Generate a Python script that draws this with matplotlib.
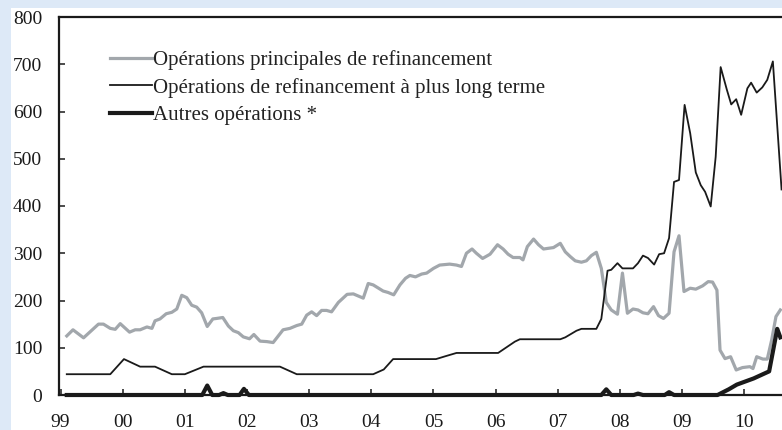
import matplotlib
matplotlib.use('Agg')
import matplotlib.pyplot as plt
from matplotlib.patches import Rectangle

# Encours des opérations (milliards d'euros)
mro_x = [1999.10, 1999.20, 1999.37, 1999.61, 1999.69, 1999.80, 1999.88, 1999.96,
         2000.11, 2000.20, 2000.28, 2000.39, 2000.47, 2000.52, 2000.60, 2000.70,
         2000.79, 2000.87, 2000.95, 2001.03, 2001.11, 2001.19, 2001.27, 2001.36,
         2001.45, 2001.51, 2001.61, 2001.70, 2001.78, 2001.86, 2001.94, 2002.04,
         2002.11, 2002.21, 2002.32, 2002.42, 2002.58, 2002.69, 2002.80, 2002.88,
         2002.96, 2003.04, 2003.12, 2003.20, 2003.28, 2003.36, 2003.47, 2003.61,
         2003.71, 2003.87, 2003.95, 2004.03, 2004.19, 2004.27, 2004.36, 2004.46,
         2004.55, 2004.62, 2004.71, 2004.81, 2004.89, 2005.00, 2005.10, 2005.26,
         2005.37, 2005.45, 2005.53, 2005.62, 2005.69, 2005.79, 2005.91, 2006.03,
         2006.12, 2006.20, 2006.28, 2006.39, 2006.44, 2006.51, 2006.61, 2006.69,
         2006.77, 2006.93, 2007.04, 2007.12, 2007.20, 2007.28, 2007.38, 2007.46,
         2007.54, 2007.62, 2007.70, 2007.78, 2007.86, 2007.96, 2008.04, 2008.12,
         2008.21, 2008.29, 2008.37, 2008.45, 2008.54, 2008.62, 2008.70, 2008.79,
         2008.87, 2008.95, 2009.03, 2009.13, 2009.22, 2009.33, 2009.42, 2009.49,
         2009.56, 2009.61, 2009.69, 2009.78, 2009.87, 2009.97, 2010.09, 2010.14,
         2010.20, 2010.30, 2010.37, 2010.44, 2010.51, 2010.58]
mro_y = [125, 138, 121, 150, 150, 141, 139, 151,
         133, 138, 138, 144, 141, 157, 161, 172,
         175, 182, 211, 206, 190, 186, 174, 145,
         161, 162, 164, 146, 136, 132, 123, 119,
         128, 114, 113, 111, 138, 141, 147, 150,
         169, 176, 168, 179, 179, 176, 196, 213,
         214, 205, 236, 233, 220, 217, 212, 233,
         247, 253, 250, 256, 258, 268, 275, 277,
         275, 272, 300, 309, 300, 289, 298, 318,
         309, 298, 291, 291, 286, 314, 330, 318,
         309, 312, 321, 303, 293, 284, 281, 284,
         295, 302, 268, 196, 180, 171, 258, 173,
         182, 180, 174, 172, 187, 168, 162, 173,
         303, 337, 219, 226, 224, 231, 240, 239,
         222, 95, 77, 81, 53, 58, 60, 56,
         81, 76, 76, 116, 166, 180]

ltro_x = [1999.10, 1999.80, 2000.02, 2000.28, 2000.52, 2000.79, 2001.00, 2001.30,
          2002.53, 2002.80, 2004.03, 2004.20, 2004.35, 2005.04, 2005.19, 2005.37,
          2006.04, 2006.31, 2006.39, 2007.04, 2007.12, 2007.30, 2007.38, 2007.62,
          2007.70, 2007.80, 2007.86, 2007.96, 2008.04, 2008.21, 2008.29, 2008.37,
          2008.45, 2008.55, 2008.63, 2008.71, 2008.79, 2008.87, 2008.95, 2009.04,
          2009.13, 2009.22, 2009.30, 2009.37, 2009.46, 2009.54, 2009.62, 2009.72,
          2009.79, 2009.87, 2009.95, 2010.05, 2010.11, 2010.20, 2010.29, 2010.37,
          2010.46, 2010.60]
ltro_y = [44, 44, 76, 60, 60, 44, 44, 60,
          60, 44, 44, 54, 76, 76, 82, 89,
          89, 113, 118, 118, 122, 136, 140, 140,
          161, 263, 265, 279, 268, 268, 279, 295,
          290, 276, 298, 300, 332, 451, 455, 614,
          554, 471, 444, 430, 399, 504, 694, 646,
          615, 626, 593, 649, 661, 640, 651, 667,
          706, 435]

autres_x = [1999.10, 2001.28, 2001.36, 2001.44, 2001.55, 2001.62, 2001.69, 2001.88,
            2001.95, 2002.03, 2007.70, 2007.78, 2007.86, 2008.22, 2008.29, 2008.37,
            2008.72, 2008.79, 2008.87, 2009.57, 2009.75, 2009.88, 2010.15, 2010.40,
            2010.53, 2010.58]
autres_y = [0, 0, 20, 0, 0, 4, 0, 0,
            13, 0, 0, 12, 0, 0, 3, 0,
            0, 6, 0, 0, 12, 22, 35, 50,
            140, 122]

labels = ["Opérations principales de refinancement",
          "Opérations de refinancement à plus long terme",
          "Autres opérations *"]
year_ticks = list(range(1999, 2011))
year_labels = ['%02d' % (y % 100) for y in year_ticks]

plt.rcParams['font.family'] = ['Liberation Serif', 'DejaVu Serif']

W, H = 782, 430
fig = plt.figure(figsize=(W / 100, H / 100), dpi=100)
fig.patch.set_facecolor('white')
# bandeau bleu clair en haut et à gauche
blue = '#dde9f7'
fig.patches.append(Rectangle((0, 1 - 8 / H), 1, 8 / H, transform=fig.transFigure,
                             facecolor=blue, edgecolor='none', zorder=0))
fig.patches.append(Rectangle((0, 0), 11 / W, 1, transform=fig.transFigure,
                             facecolor=blue, edgecolor='none', zorder=0))

ax = fig.add_axes([59 / W, 35 / H, (W - 59) / W, 378 / H])
ax.plot(mro_x, mro_y, color='#a2a7ac', lw=2.3, label=labels[0], zorder=3)
ax.plot(ltro_x, ltro_y, color='#1a1a1a', lw=1.3, label=labels[1], zorder=4)
ax.plot(autres_x, autres_y, color='#1a1a1a', lw=3.0, label=labels[2], zorder=5,
        clip_on=False)

ax.set_xlim(1998.975, 2010.607)
ax.set_ylim(0, 800)
ax.set_yticks(range(0, 801, 100))
ax.set_xticks(year_ticks)
ax.set_xticklabels(year_labels)

for s in ['top', 'left', 'bottom']:
    ax.spines[s].set_linewidth(1.6)
    ax.spines[s].set_color('#1a1a1a')
ax.spines['right'].set_visible(False)

ax.tick_params(axis='y', direction='in', length=4.5, width=1.1, pad=12,
               labelsize=14, colors='#1a1a1a')
ax.tick_params(axis='x', direction='in', length=4.5, width=1.1, pad=14,
               labelsize=14, colors='#1a1a1a')

ax.legend(loc='upper left', bbox_to_anchor=(110 / W, 1 - 50 / H),
          bbox_transform=fig.transFigure, frameon=False, fontsize=15,
          handlelength=2.0, handletextpad=0.05, borderpad=0, borderaxespad=0,
          labelspacing=0.37, labelcolor='#222222')

fig.savefig('out.png', dpi=100, facecolor=fig.get_facecolor())
